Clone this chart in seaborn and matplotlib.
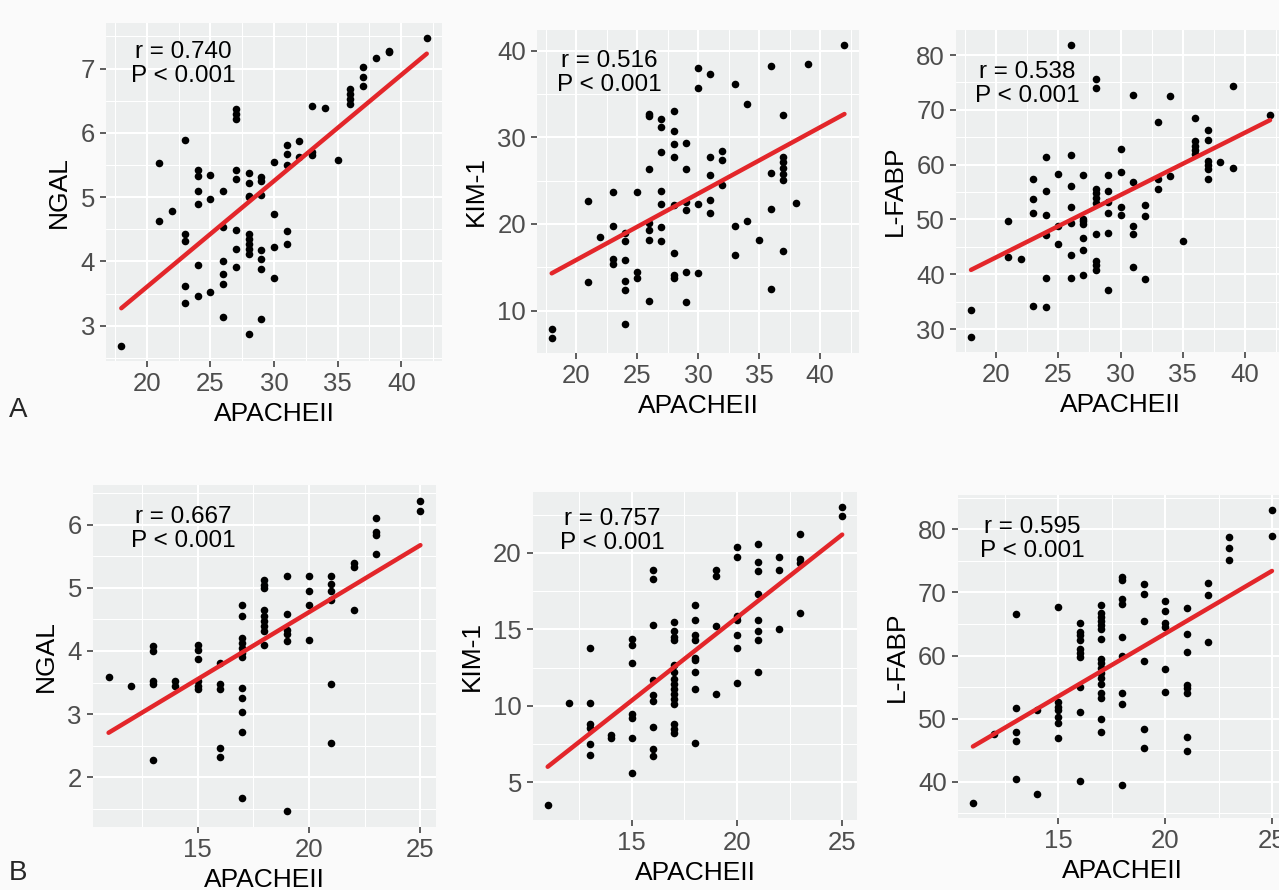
import matplotlib
matplotlib.use('Agg')
import matplotlib.pyplot as plt
import seaborn as sns
import pandas as pd
from matplotlib.ticker import MultipleLocator, AutoMinorLocator

# ---- dati (riga A) ----
ngal_a_x = [18, 21, 21, 22, 23, 23, 23, 23, 23, 24, 24, 24, 24, 24, 24, 25, 25, 25,
            26, 26, 26, 26, 26, 26, 27, 27, 27, 27, 27, 27, 27, 27,
            28, 28, 28, 28, 28, 28, 28, 28, 28, 28, 29, 29, 29, 29, 29, 29, 29,
            30, 30, 30, 30, 31, 31, 31, 31, 31, 32, 32, 33, 33, 33, 34, 35,
            36, 36, 36, 36, 37, 37, 37, 38, 39, 39, 42]
ngal_a_y = [2.69, 5.53, 4.63, 4.79, 5.89, 4.42, 4.31, 3.61, 3.36,
            5.42, 5.33, 5.10, 4.90, 3.95, 3.46, 5.34, 4.97, 3.53,
            5.09, 4.53, 4.00, 3.80, 3.65, 3.13, 6.37, 6.29, 6.21, 5.42, 5.28, 4.49, 4.19, 3.91,
            5.37, 5.22, 5.02, 5.00, 4.42, 4.35, 4.27, 4.19, 4.11, 2.87,
            5.32, 5.25, 5.04, 4.17, 4.04, 3.88, 3.10,
            5.54, 4.73, 4.22, 3.74, 5.81, 5.67, 5.50, 4.47, 4.27, 5.87, 5.62,
            6.42, 5.70, 5.65, 6.38, 5.58,
            6.68, 6.60, 6.52, 6.45, 7.03, 6.87, 6.73, 7.17, 7.27, 7.25, 7.47]

kim_a_x = [18, 18, 21, 21, 22, 23, 23, 23, 23, 24, 24, 24, 24, 24, 24, 25, 25, 25,
           26, 26, 26, 26, 26, 26, 26, 27, 27, 27, 27, 27, 27, 27,
           28, 28, 28, 28, 28, 28, 28, 28, 29, 29, 29, 29, 29, 29,
           30, 30, 30, 30, 31, 31, 31, 31, 31, 32, 32, 32, 33, 33, 33, 34, 34, 35,
           36, 36, 36, 36, 37, 37, 37, 37, 37, 37, 37, 38, 39, 42]
kim_a_y = [7.9, 6.8, 22.6, 13.3, 18.5, 23.7, 19.8, 15.9, 15.4,
           18.9, 18.0, 15.8, 13.4, 12.4, 8.5, 23.7, 14.5, 13.8,
           32.7, 32.5, 26.4, 20.1, 19.3, 18.2, 11.1, 32.1, 31.2, 28.3, 23.8, 22.3, 19.7, 18.0,
           33.1, 30.7, 29.2, 27.7, 22.2, 16.7, 14.1, 13.8, 29.3, 26.4, 22.5, 21.6, 14.4, 11.0,
           38.0, 35.7, 22.3, 14.3, 37.3, 27.7, 25.6, 22.8, 21.3, 28.4, 27.4, 24.5,
           36.2, 19.8, 16.4, 33.9, 20.3, 18.2,
           38.2, 25.9, 21.7, 12.5, 32.6, 27.7, 27.1, 26.5, 25.8, 25.1, 16.9, 22.4, 38.5, 40.7]

lfabp_a_x = [18, 18, 21, 21, 22, 23, 23, 23, 23, 24, 24, 24, 24, 24, 24, 25, 25, 25,
             26, 26, 26, 26, 26, 26, 26, 27, 27, 27, 27, 27, 27, 27,
             28, 28, 28, 28, 28, 28, 28, 28, 28, 28, 29, 29, 29, 29, 29, 29,
             30, 30, 30, 30, 31, 31, 31, 31, 31, 32, 32, 32, 33, 33, 33, 34, 34, 35,
             36, 36, 36, 36, 36, 37, 37, 37, 37, 37, 37, 38, 39, 39, 42]
lfabp_a_y = [33.4, 28.5, 49.8, 43.1, 42.8, 57.4, 53.8, 51.2, 34.2,
             61.4, 55.2, 50.9, 47.1, 39.3, 34.1, 58.3, 48.8, 45.5,
             81.9, 61.8, 56.1, 52.3, 49.4, 43.5, 39.3, 58.2, 50.1, 49.7, 49.1, 46.6, 44.5, 39.8,
             75.7, 74.0, 55.6, 54.8, 53.9, 53.0, 47.3, 42.5, 41.7, 40.8,
             58.2, 55.2, 53.2, 51.2, 47.5, 37.1,
             62.8, 58.6, 52.3, 50.9, 72.8, 56.8, 48.8, 47.3, 41.4, 52.7, 50.7, 39.2,
             67.8, 57.3, 55.6, 72.6, 57.9, 46.1,
             68.6, 64.4, 63.4, 62.6, 62.0, 66.4, 64.5, 60.6, 59.9, 59.3, 57.3, 60.5, 74.3, 59.4, 69.1]

# ---- dati (riga B) ----
ngal_b_x = [11, 12, 13, 13, 13, 13, 13, 14, 14, 15, 15, 15, 15, 15, 15, 16, 16, 16, 16, 16,
            17, 17, 17, 17, 17, 17, 17, 17, 17, 17, 17, 17,
            18, 18, 18, 18, 18, 18, 18, 18, 18, 19, 19, 19, 19, 19, 19,
            20, 20, 20, 20, 21, 21, 21, 21, 21, 21, 22, 22, 22, 23, 23, 23, 23, 25, 25]
ngal_b_y = [3.58, 3.44, 4.08, 4.00, 3.53, 3.48, 2.27, 3.53, 3.45,
            4.10, 4.02, 3.88, 3.53, 3.45, 3.39, 3.81, 3.48, 3.40, 2.47, 2.32,
            4.72, 4.55, 4.21, 4.13, 4.05, 3.97, 3.90, 3.41, 3.26, 3.03, 2.72, 1.67,
            5.12, 5.05, 4.99, 4.64, 4.55, 4.47, 4.39, 4.32, 4.10, 5.18, 4.59, 4.33, 4.26, 4.16, 1.46,
            5.19, 4.95, 4.73, 4.17, 5.18, 5.06, 4.95, 4.81, 3.48, 2.55, 5.39, 5.32, 4.64,
            6.11, 5.88, 5.83, 5.53, 6.38, 6.21]

kim_b_x = [11, 12, 13, 13, 13, 13, 13, 13, 14, 14, 15, 15, 15, 15, 15, 15, 15,
           16, 16, 16, 16, 16, 16, 16, 16, 16,
           17, 17, 17, 17, 17, 17, 17, 17, 17, 17, 17, 17, 17, 17, 17,
           18, 18, 18, 18, 18, 18, 18, 18, 18, 19, 19, 19, 19,
           20, 20, 20, 20, 20, 20, 20, 21, 21, 21, 21, 21, 21, 21, 21,
           22, 22, 22, 23, 23, 23, 23, 25, 25]
kim_b_y = [3.52, 10.2, 13.8, 10.2, 8.8, 8.55, 7.5, 6.8, 8.1, 7.9,
           14.4, 13.95, 12.8, 9.5, 9.2, 7.9, 5.6,
           18.9, 18.3, 15.3, 11.7, 10.7, 10.3, 8.6, 7.15, 6.7,
           15.5, 14.9, 14.5, 14.3, 12.7, 12.2, 11.75, 11.4, 11.1, 10.75, 10.45, 10.1, 8.8, 8.5, 8.2,
           16.6, 15.6, 14.6, 14.3, 13.1, 13.0, 12.2, 11.1, 7.6, 18.9, 18.5, 15.2, 10.75,
           20.4, 19.7, 15.9, 15.6, 14.6, 13.8, 11.5, 20.6, 19.4, 18.8, 17.3, 15.6, 14.9, 14.3, 12.2,
           19.7, 18.9, 15.0, 21.25, 19.6, 19.35, 16.1, 23.0, 22.4]

lfabp_b_x = [11, 12, 13, 13, 13, 13, 13, 14, 14, 15, 15, 15, 15, 15, 15, 15,
             16, 16, 16, 16, 16, 16, 16, 16, 16, 16,
             17, 17, 17, 17, 17, 17, 17, 17, 17, 17, 17, 17, 17, 17, 17, 17, 17,
             18, 18, 18, 18, 18, 18, 18, 18, 18, 19, 19, 19, 19, 19, 19,
             20, 20, 20, 20, 20, 20, 21, 21, 21, 21, 21, 21, 21, 21,
             22, 22, 22, 23, 23, 23, 25, 25]
lfabp_b_y = [36.6, 47.6, 66.6, 51.7, 47.9, 46.4, 40.5, 51.3, 38.1,
             67.7, 52.7, 51.9, 51.3, 50.2, 49.3, 47.0,
             65.1, 63.8, 63.2, 62.5, 61.1, 60.4, 59.8, 55.0, 51.0, 40.2,
             68.0, 66.8, 66.1, 65.5, 64.8, 64.2, 62.6, 59.5, 58.8, 58.0, 57.2, 56.4, 55.5, 54.0, 53.2, 49.9, 47.9,
             72.5, 72.0, 68.9, 68.2, 62.9, 59.9, 54.0, 52.4, 39.5, 71.3, 69.7, 65.5, 59.2, 48.4, 45.4,
             68.6, 67.0, 65.2, 64.5, 57.8, 54.2, 67.5, 63.4, 60.5, 55.4, 54.8, 54.1, 47.1, 44.9,
             71.5, 69.6, 62.1, 78.7, 77.0, 75.1, 83.1, 79.0]

etichette_y = ['NGAL', 'KIM-1', 'L-FABP', 'NGAL', 'KIM-1', 'L-FABP']
testi_r = ['r = 0.740', 'r = 0.516', 'r = 0.538', 'r = 0.667', 'r = 0.757', 'r = 0.595']

# posizioni dei pannelli (frazioni della figura) e del testo (frazioni degli assi)
posizioni = [[0.0829, 0.5944, 0.2627, 0.3798], [0.4199, 0.6034, 0.2518, 0.3629],
             [0.7475, 0.6045, 0.2572, 0.3618], [0.0727, 0.0708, 0.2682, 0.3843],
             [0.4167, 0.0787, 0.2533, 0.3685], [0.7490, 0.0809, 0.2572, 0.3629]]
pos_testo = [(0.229, 0.879), (0.224, 0.867), (0.217, 0.832),
             (0.262, 0.871), (0.244, 0.881), (0.225, 0.864)]
passo_y = [1, 10, 10, 1, 5, 10]

serie = [(ngal_a_x, ngal_a_y), (kim_a_x, kim_a_y), (lfabp_a_x, lfabp_a_y),
         (ngal_b_x, ngal_b_y), (kim_b_x, kim_b_y), (lfabp_b_x, lfabp_b_y)]

sns.set_theme(style='darkgrid')
plt.rcParams['font.family'] = ['Liberation Sans', 'DejaVu Sans']

fig = plt.figure(figsize=(12.79, 8.90), dpi=100, facecolor='#FAFAFA')

for i, (x, y) in enumerate(serie):
    df = pd.DataFrame({'APACHEII': x, 'valore': y})
    ax = fig.add_axes(posizioni[i])
    ax.set_facecolor('#EDEFEF')
    sns.regplot(data=df, x='APACHEII', y='valore', ax=ax, ci=None,
                scatter_kws={'s': 30, 'color': 'black', 'linewidths': 0, 'alpha': 1, 'zorder': 3},
                line_kws={'color': '#E3262A', 'lw': 3.2, 'zorder': 4})
    ax.margins(0.05)
    # griglia stile ggplot
    ax.xaxis.set_major_locator(MultipleLocator(5))
    ax.yaxis.set_major_locator(MultipleLocator(passo_y[i]))
    ax.xaxis.set_minor_locator(AutoMinorLocator(2))
    ax.yaxis.set_minor_locator(AutoMinorLocator(2))
    ax.grid(which='major', color='white', lw=1.5)
    ax.grid(which='minor', color='white', lw=0.8)
    ax.set_axisbelow(True)
    for s in ax.spines.values():
        s.set_visible(False)
    ax.tick_params(which='major', direction='out', length=4, width=1.1, color='#333333',
                   labelcolor='#4D4D4D', labelsize=18.5, pad=4, bottom=True, left=True)
    ax.tick_params(which='minor', length=0)
    ax.set_xlabel('APACHEII', fontsize=19, color='black', labelpad=4)
    ax.set_ylabel(etichette_y[i], fontsize=19, color='black', labelpad=7)
    ax.text(pos_testo[i][0], pos_testo[i][1], testi_r[i] + '\nP < 0.001', transform=ax.transAxes,
            ha='center', va='center', fontsize=17.5, color='black', linespacing=1.15)

fig.text(9 / 1279, 1 - 417 / 890, 'A', fontsize=20, va='baseline', ha='left')
fig.text(9 / 1279, 10 / 890, 'B', fontsize=20, va='baseline', ha='left')

fig.savefig('out.png', dpi=100, facecolor=fig.get_facecolor())
